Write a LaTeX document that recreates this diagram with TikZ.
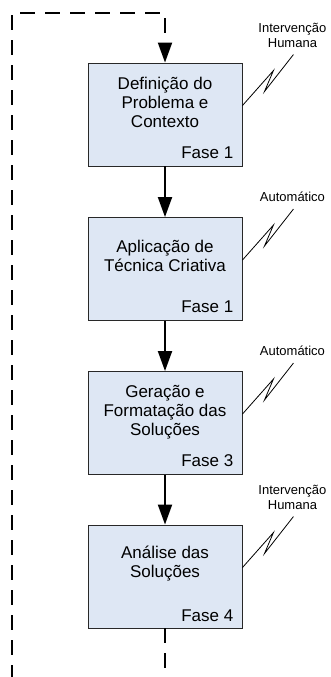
\documentclass[tikz,border=0pt]{standalone}
\usepackage{fontspec}
\setmainfont{Liberation Sans}
\usetikzlibrary{arrows.meta,calc}
\definecolor{boxfill}{RGB}{222,231,244}
\definecolor{boxline}{RGB}{40,40,40}
\begin{document}
\begin{tikzpicture}[x=1pt,y=-1pt,
  stage/.style={draw=boxline,line width=0.9pt,fill=boxfill,minimum width=154pt,minimum height=103pt,inner sep=0pt},
  stagetext/.style={anchor=north,align=center,inner sep=0pt,font=\fontsize{17}{19}\selectfont},
  phase/.style={anchor=base east,inner sep=0pt,font=\fontsize{17}{19}\selectfont},
  flow/.style={line width=2pt,-{Triangle[length=20pt,width=14pt]}},
  loopline/.style={line width=2pt,dash pattern=on 15pt off 10pt,-{Triangle[length=20pt,width=14pt]}},
  bolt/.style={line width=0.8pt,black},
  note/.style={anchor=south,align=center,inner sep=0pt,font=\fontsize{13}{15}\selectfont}
]
\useasboundingbox (0,0) rectangle (330,677);
\clip (0,0) rectangle (330,677);

\node[stage] (b1) at (165,114.5) {};
\node[stage] (b2) at (165,269) {};
\node[stage] (b3) at (165,423) {};
\node[stage] (b4) at (165,576.5) {};

\node[stagetext] (t1) at ($(b1.north)+(0,14)$) {Definição do\\Problema e\\Contexto};
\node[stagetext] (t2) at ($(b2.north)+(0,22.6)$) {Aplicação de\\Técnica Criativa};
\node[stagetext] (t3) at ($(b3.north)+(0,14.5)$) {Geração e\\Formatação das\\Soluções};
\node[stagetext] (t4) at ($(b4.north)+(0,21.5)$) {Análise das\\Soluções};

\node[phase] (p1) at ($(b1.south east)+(-9,-8)$) {Fase 1};
\node[phase] (p2) at ($(b2.south east)+(-9,-8)$) {Fase 1};
\node[phase] (p3) at ($(b3.south east)+(-9,-8)$) {Fase 3};
\node[phase] (p4) at ($(b4.south east)+(-9,-7)$) {Fase 4};

\draw[flow] (b1.south) -- (b2.north);
\draw[flow] (b2.south) -- (b3.north);
\draw[flow] (b3.south) -- (b4.north);

\coordinate (bl) at (12,740);
\coordinate (tr) at (165,13);
\draw[loopline] (b4.south) |- (bl) |- (tr) -- (b1.north);

\foreach \b/\lab in {b1/{Intervenção\\Humana}, b2/{Automático}, b3/{Automático}, b4/{Intervenção\\Humana}}{
  \draw[bolt] ($(\b.north east)+(0,43)$) -- ++(31,-35) -- ++(-9,21) -- ++(29,-37) coordinate (\b e);
  \node[note] (\b n) at ($(\b e)+(-1,-7)$) {\lab};
}
\end{tikzpicture}
\end{document}
